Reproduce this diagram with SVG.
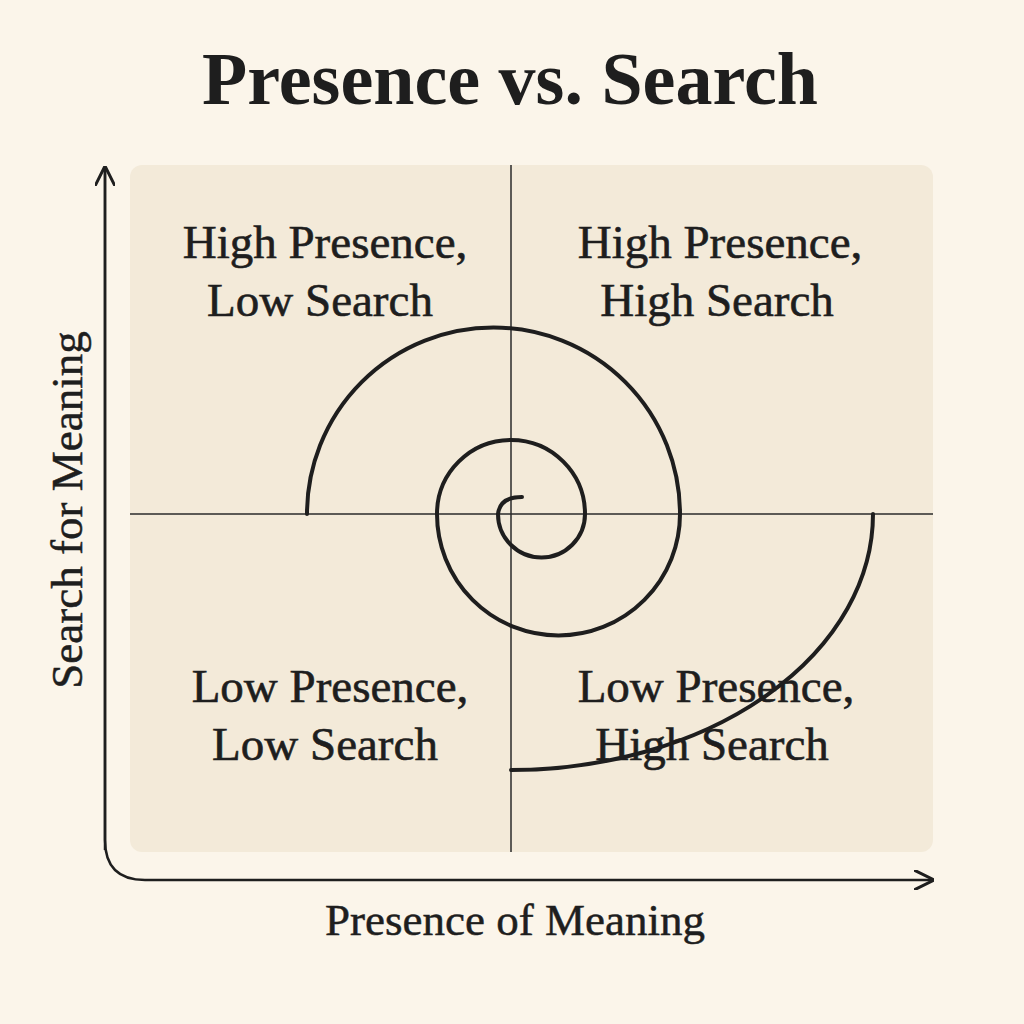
<svg xmlns="http://www.w3.org/2000/svg" width="1024" height="1024" viewBox="0 0 1024 1024">
<style>
.q{font-family:"Liberation Serif","DejaVu Serif",serif;font-size:47px;fill:#1e1e1e;text-anchor:middle;stroke:#1e1e1e;stroke-width:0.6}
.ax{font-family:"Liberation Serif","DejaVu Serif",serif;font-size:45px;fill:#1e1e1e;text-anchor:middle;stroke:#1e1e1e;stroke-width:0.5}
.thin{stroke:#2a2a2a;stroke-width:1.5;fill:none}
.sp{stroke:#1e1e1e;stroke-width:4;fill:none;stroke-linecap:round}
</style>
<defs><marker id="ar" viewBox="0 0 10 10" refX="9" refY="5" markerWidth="8" markerHeight="8" orient="auto"><path d="M0,0 L10,5 L0,10" fill="none" stroke="#1e1e1e" stroke-width="1.5"/></marker></defs>
<rect width="1024" height="1024" fill="#fbf5ea"/>
<text x="510" y="104" style="font-family:'Liberation Serif','DejaVu Serif',serif;font-size:74px;font-weight:bold;fill:#1e1e1e;text-anchor:middle">Presence vs. Search</text>
<g id="panel"><rect x="130" y="165" width="803" height="687" rx="12" fill="#f3ead9"/>
<line class="thin" x1="511" y1="165" x2="511" y2="852"/><line class="thin" x1="130" y1="514" x2="933" y2="514"/></g>
<g id="axes"><path d="M105,168 V840 Q105,880 145,880 H932" fill="none" stroke="#1e1e1e" stroke-width="2.5" marker-end="url(#ar)"/>
<path d="M105,850 V168" fill="none" stroke="#1e1e1e" stroke-width="2.5" marker-end="url(#ar)"/></g>
<g id="spiral"><path class="sp" d="M522,497 Q500,497 498,514 A43.5,43.5 0 0 0 585,514 A74,74 0 0 0 437,514 A121.5,121.5 0 0 0 680,514 A186.5,186.5 0 0 0 307,514"/>
<path class="sp" d="M873,514 A362,256 0 0 1 511,770"/></g>
<g id="q1"><text class="q" x="325" y="258">High Presence,</text><text class="q" x="320" y="316">Low Search</text></g>
<g id="q2"><text class="q" x="720" y="258">High Presence,</text><text class="q" x="717" y="316">High Search</text></g>
<g id="q3"><text class="q" x="330" y="702">Low Presence,</text><text class="q" x="325" y="760">Low Search</text></g>
<g id="q4"><text class="q" x="716" y="702">Low Presence,</text><text class="q" x="712" y="760">High Search</text></g>
<text class="ax" x="515" y="935">Presence of Meaning</text>
<text class="ax" transform="translate(82,510) rotate(-90)">Search for Meaning</text>
</svg>
